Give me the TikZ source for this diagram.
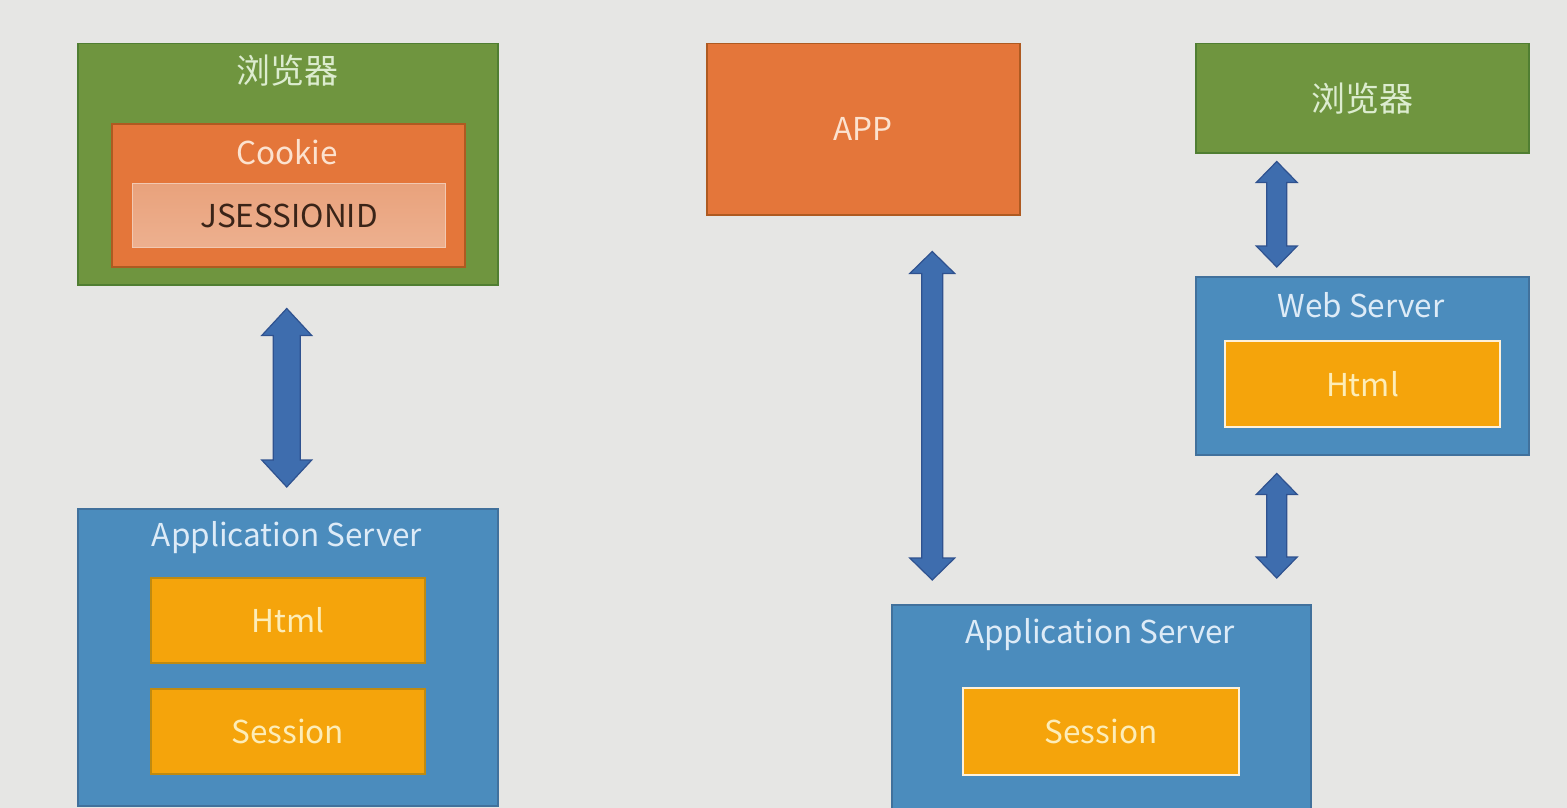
\documentclass[tikz,border=0pt]{standalone}
\usepackage{fontspec}
\setmainfont{Noto Sans CJK SC}
\usetikzlibrary{calc}

\definecolor{bgc}{HTML}{E6E6E4}
\definecolor{grnfill}{HTML}{6F953F}
\definecolor{grnline}{HTML}{507E32}
\definecolor{grntext}{HTML}{DCECCF}
\definecolor{orfill}{HTML}{E4763A}
\definecolor{orline}{HTML}{AE5A21}
\definecolor{ortext}{HTML}{FCE2CF}
\definecolor{blfill}{HTML}{4B8CBD}
\definecolor{blline}{HTML}{41719C}
\definecolor{bltext}{HTML}{DDEBF7}
\definecolor{yefill}{HTML}{F5A40B}
\definecolor{yeline}{HTML}{C08A10}
\definecolor{yetext}{HTML}{FDEDB8}
\definecolor{arfill}{HTML}{3E6DAE}
\definecolor{arline}{HTML}{2F528F}
\definecolor{idtop}{HTML}{E9A27C}
\definecolor{idbot}{HTML}{EDB08F}
\definecolor{idtext}{HTML}{3A2418}

\tikzset{
  box/.style={rectangle, anchor=north west, line width=1.5pt, inner sep=0pt},
  greenbox/.style={box, fill=grnfill, draw=grnline},
  orangebox/.style={box, fill=orfill, draw=orline},
  bluebox/.style={box, fill=blfill, draw=blline},
  yellowbox/.style={box, fill=yefill, draw=yeline},
  lightyellowbox/.style={box, fill=yefill, draw=white!85!yefill, line width=2pt},
  idbox/.style={box, top color=idtop, bottom color=idbot, draw=idbot!70!white, line width=1pt},
  lbl/.style={font=\fontsize{31.5}{35}\selectfont, inner sep=0pt, anchor=center},
  cjklbl/.style={font=\fontsize{34}{38}\selectfont, inner sep=0pt, anchor=center},
  arrowbody/.style={fill=arfill, draw=arline, line width=1.2pt, line join=miter},
}

% vertical double-headed block arrow between two points
% #1 top tip, #2 bottom tip, #3 half shaft width, #4 half head width, #5 head length
\newcommand\blockarrow[5]{%
  \draw[arrowbody] let \p1=#1, \p2=#2 in
    (\x1,\y1) -- (\x1+#4,\y1-#5) -- (\x1+#3,\y1-#5) -- (\x1+#3,\y2+#5)
    -- (\x1+#4,\y2+#5) -- (\x1,\y2) -- (\x1-#4,\y2+#5) -- (\x1-#3,\y2+#5)
    -- (\x1-#3,\y1-#5) -- (\x1-#4,\y1-#5) -- cycle;}

\begin{document}
\begin{tikzpicture}[x=1pt, y=-1pt]
  \fill[bgc] (0,0) rectangle (1567,808);
  \useasboundingbox (0,0) rectangle (1567,808);
  \clip (0,0) rectangle (1567,808);

  % ---- left: browser with cookie ----
  \node[greenbox, minimum width=420pt, minimum height=241pt] (lbrowser) at (77,43) {};
  \node[cjklbl, text=grntext] (lbrowsertxt) at (287,71) {浏览器};
  \node[orangebox, minimum width=353pt, minimum height=143pt] (lcookie) at (111,123) {};
  \node[lbl, text=ortext] (lcookietxt) at (287,152) {Cookie};
  \node[idbox, minimum width=313pt, minimum height=64pt] (jsid) at (132,183) {};
  \node[lbl, text=idtext] (jsidtxt) at (jsid.center) {JSESSIONID};

  % ---- left: application server ----
  \node[bluebox, minimum width=420pt, minimum height=297pt] (lserver) at (77,508) {};
  \node[lbl, text=bltext] (lservertxt) at (287,538) {Application Server};
  \node[yellowbox, minimum width=274pt, minimum height=85pt] (lhtml) at (150,577) {};
  \node[lbl, text=yetext] at (lhtml.center) {Html};
  \node[yellowbox, minimum width=274pt, minimum height=85pt] (lsession) at (150,688) {};
  \node[lbl, text=yetext] at (lsession.center) {Session};

  \blockarrow{($(lbrowser.south)+(-1,23)$)}{($(lserver.north)+(-1,-21)$)}{13.5}{25}{27}

  % ---- right: app client ----
  \node[orangebox, minimum width=313pt, minimum height=171pt] (app) at (706,43) {};
  \node[lbl, text=ortext] at (app.center) {APP};

  % ---- right: browser ----
  \node[greenbox, minimum width=333pt, minimum height=109pt] (rbrowser) at (1195,43) {};
  \node[cjklbl, text=grntext] at (rbrowser.center) {浏览器};

  % ---- right: web server ----
  \node[bluebox, minimum width=333pt, minimum height=178pt] (web) at (1195,276) {};
  \node[lbl, text=bltext] (webtxt) at (1361,305) {Web Server};
  \node[lightyellowbox, minimum width=275pt, minimum height=86pt] (rhtml) at (1224,340) {};
  \node[lbl, text=yetext] at (rhtml.center) {Html};

  % ---- right: application server ----
  \node[bluebox, minimum width=419pt, minimum height=230pt] (rserver) at (891,604) {};
  \node[lbl, text=bltext] (rservertxt) at (1100,635) {Application Server};
  \node[lightyellowbox, minimum width=276pt, minimum height=87pt] (rsession) at (962,687) {};
  \node[lbl, text=yetext] at (rsession.center) {Session};

  % ---- connectors ----
  \blockarrow{($(app.south)+(69,36)$)}{($(rserver.north)+(-169.5,-24)$)}{10.5}{22.5}{22}
  \blockarrow{($(rbrowser.south)+(-85.5,8)$)}{($(web.north)+(-85.5,-9)$)}{10}{20.5}{21}
  \blockarrow{($(web.south)+(-85.5,18)$)}{($(rserver.north)+(175.5,-26)$)}{10}{20.5}{21}
\end{tikzpicture}
\end{document}
